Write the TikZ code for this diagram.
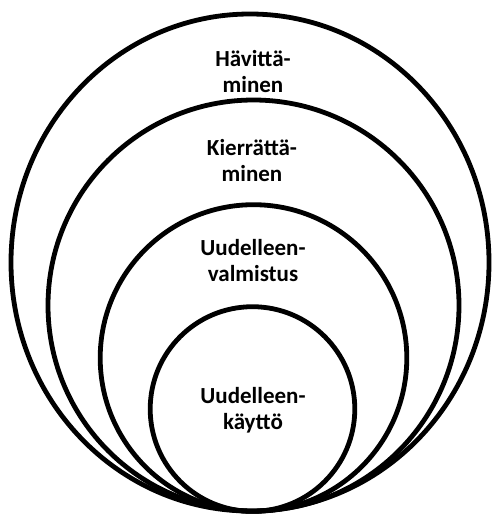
\documentclass[tikz,border=0pt]{standalone}
\usepackage{fontspec}
\setmainfont{Carlito}
\tikzset{
  ring/.style={line width=4.8pt},
  lbl/.style={align=center,font=\bfseries\fontsize{23}{26}\selectfont,inner sep=0pt}
}
\begin{document}
\begin{tikzpicture}[x=1pt,y=-1pt]
\useasboundingbox (0,0) rectangle (491,514);
% nested circles, all touching at the bottom
\draw[ring] (250,262.5) ellipse [x radius=239, y radius=248.5];
\draw[ring] (253.5,305.5) circle [radius=205.5];
\draw[ring] (253.5,358) circle [radius=153.3];
\draw[ring] (252.5,409) circle [radius=102.3];
% labels
\node[lbl] (havitys) at (253,72) {Hävittä-\\minen};
\node[lbl] (kierratys) at (252,161) {Kierrättä-\\minen};
\node[lbl] (valmistus) at (253,261) {Uudelleen-\\valmistus};
\node[lbl] (kaytto) at (253,410) {Uudelleen-\\käyttö};
\end{tikzpicture}
\end{document}
